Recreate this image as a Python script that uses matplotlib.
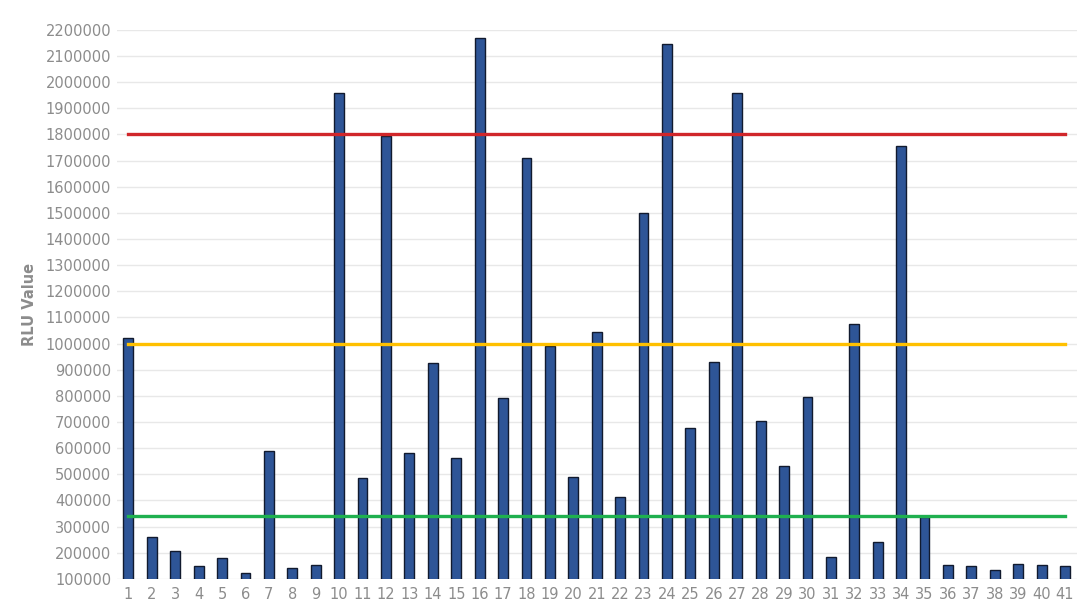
import matplotlib
matplotlib.use("Agg")
import matplotlib.pyplot as plt

# Datos
muestras = list(range(1, 42))
rlu = [1020000, 260000, 205000, 150000, 178000, 122000, 590000, 143000, 153000, 1960000,
       485000, 1795000, 580000, 925000, 563000, 2170000, 790000, 1710000, 990000, 490000,
       1045000, 413000, 1500000, 2145000, 675000, 930000, 1960000, 705000, 533000, 797000,
       185000, 1075000, 240000, 1755000, 335000, 152000, 148000, 133000, 158000, 152000,
       148000]
umbral_rojo = 1800000
umbral_naranja = 1000000
umbral_verde = 340000

gris = "#8c8c8c"

fig = plt.figure(figsize=(10.8, 6.08), dpi=100)
ax = fig.add_axes([0.108, 0.048, 0.889, 0.903])

# Barras
ax.bar(muestras, rlu, width=0.42, bottom=0, color="#2e5597", edgecolor="#111a2e",
       linewidth=1.0, zorder=3)

# Lineas de umbral
ax.plot([muestras[0], muestras[-1]], [umbral_rojo] * 2, color="#d0262a", linewidth=2.4, zorder=4)
ax.plot([muestras[0], muestras[-1]], [umbral_naranja] * 2, color="#ffc000", linewidth=2.4, zorder=4)
ax.plot([muestras[0], muestras[-1]], [umbral_verde] * 2, color="#1fb04f", linewidth=2.4, zorder=4)

# Ejes
ax.set_xlim(0.5, 41.5)
ax.set_ylim(100000, 2200000)
ax.set_yticks(range(100000, 2200001, 100000))
ax.set_yticklabels([str(v) for v in range(100000, 2200001, 100000)])
ax.set_xticks(muestras)
ax.set_xticklabels([str(m) for m in muestras])
ax.tick_params(axis="both", length=0, colors=gris, labelsize=10.5)
ax.tick_params(axis="x", pad=6)
ax.tick_params(axis="y", pad=4)
ax.grid(axis="y", color="#e8e8e8", linewidth=1.0, zorder=0)
for s in ax.spines.values():
    s.set_visible(False)
ax.set_ylabel("RLU Value", color=gris, fontsize=10.5, fontweight="bold", labelpad=6)

fig.savefig("out.png", dpi=100)
